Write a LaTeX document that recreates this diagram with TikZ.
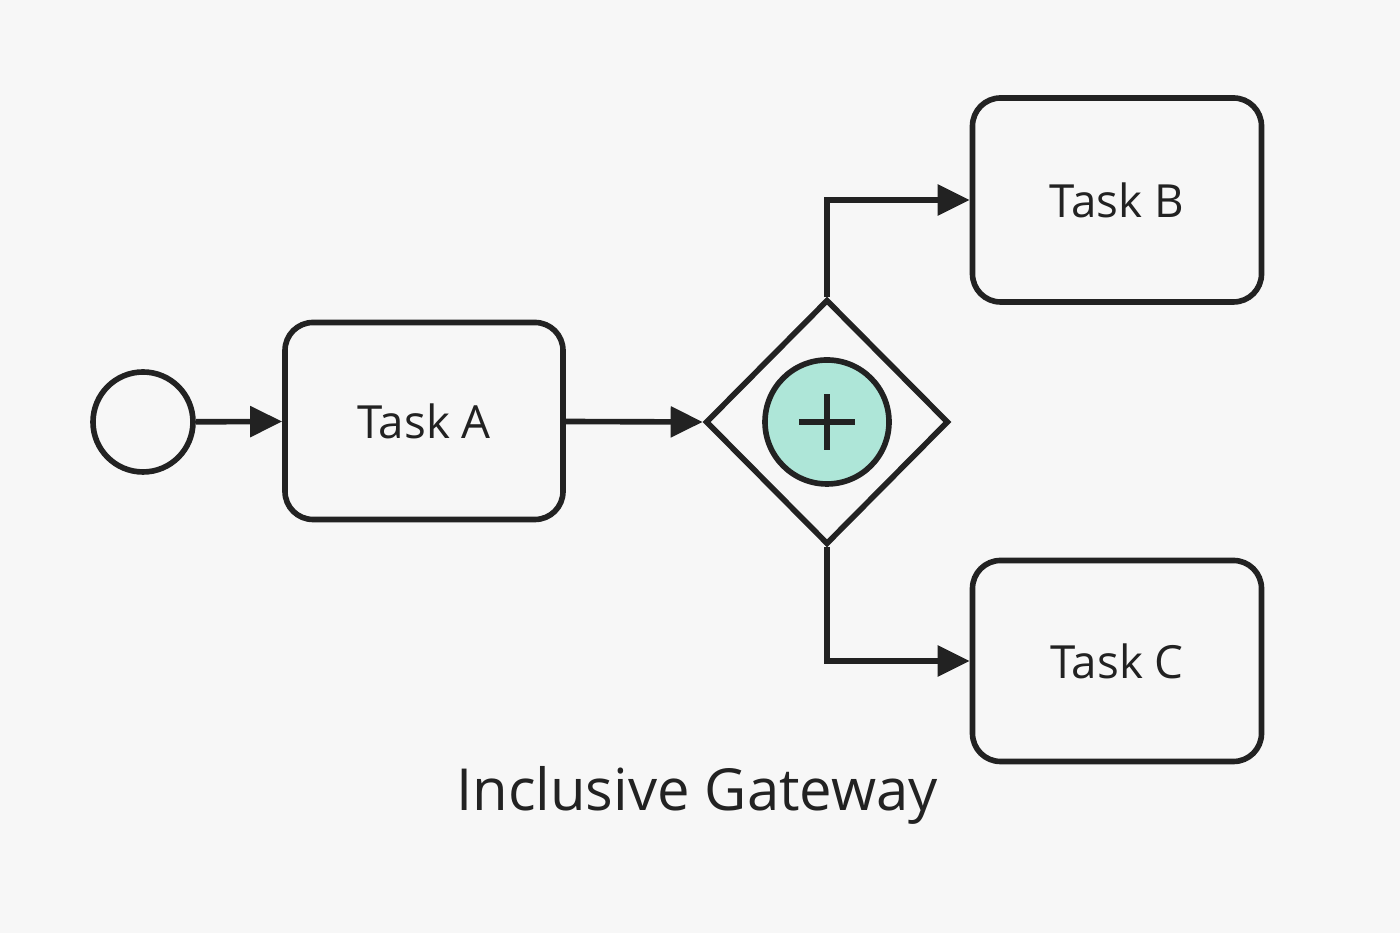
\documentclass[tikz,border=0pt]{standalone}
\usepackage{fontspec}
\setmainfont{Open Sans}
\usetikzlibrary{arrows.meta,shapes.geometric,positioning}
\definecolor{bg}{HTML}{F7F7F7}
\definecolor{ink}{HTML}{222222}
\definecolor{mint}{HTML}{AEE6D8}
\tikzset{
  task/.style={rectangle, draw=ink, line width=1.6pt, fill=bg, rounded corners=0.28cm,
    minimum width=2.78cm, minimum height=1.97cm, font=\fontsize{13}{16}\selectfont, text=ink},
  flow/.style={draw=ink, line width=1.6pt, -{Triangle[length=0.32cm,width=0.3cm]}},
}
\begin{document}
\begin{tikzpicture}
  \fill[bg] (0,0) rectangle (14,9.33);
  \useasboundingbox (0,0) rectangle (14,9.33);
  \node[circle, draw=ink, line width=1.6pt, minimum size=1.0cm, inner sep=0pt] (start) at (1.43,5.11) {};
  \node[task] (a) at (4.24,5.12) {Task A};
  \node[diamond, draw=ink, line width=1.6pt, minimum width=2.43cm, minimum height=2.45cm, inner sep=0pt] (gw) at (8.27,5.11) {};
  \node[circle, draw=ink, line width=1.6pt, fill=mint, minimum size=1.24cm, inner sep=0pt] (mark) at (gw.center) {};
  \draw[ink, line width=1.8pt] ([xshift=-0.28cm]mark.center) -- ([xshift=0.28cm]mark.center)
    ([yshift=-0.28cm]mark.center) -- ([yshift=0.28cm]mark.center);
  \node[task, minimum width=2.89cm, minimum height=2.04cm] (b) at (11.17,7.33) {Task B};
  \node[task, minimum width=2.89cm, minimum height=2.01cm] (c) at (11.17,2.72) {Task C};
  \node[font=\fontsize{16.5}{20}\selectfont, text=ink] (title) at (6.97,1.38) {Inclusive Gateway};

  \draw[flow] (start) -- (a);
  \draw[flow] (a) -- (gw.west);
  \draw[flow] (gw.north) |- (b.west);
  \draw[flow] (gw.south) |- (c.west);
\end{tikzpicture}
\end{document}
